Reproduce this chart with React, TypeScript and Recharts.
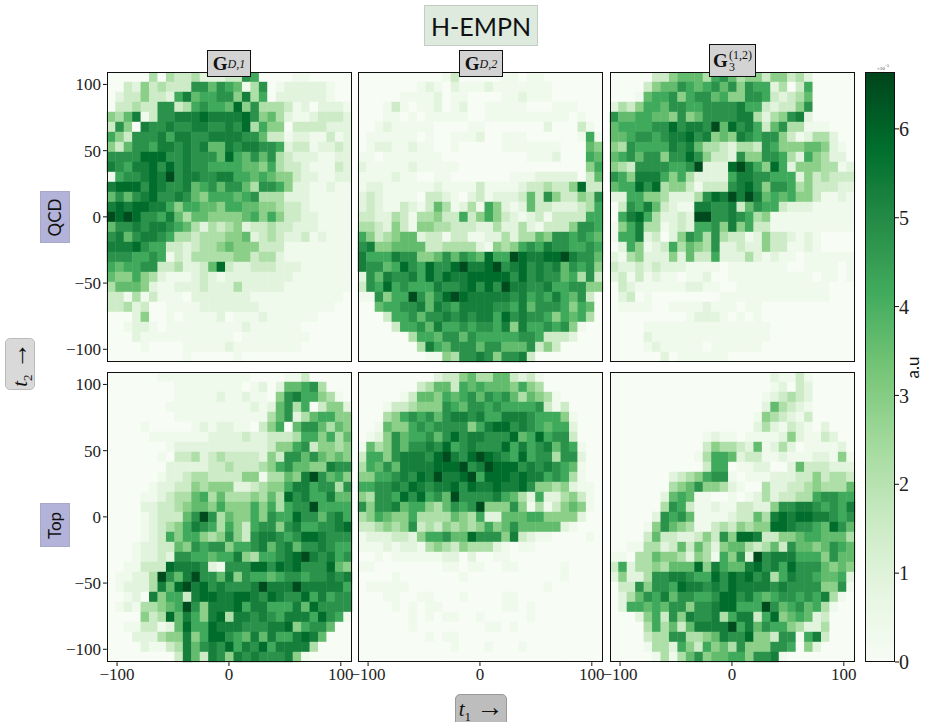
import React from "react";
import { BarChart, Bar, ScatterChart, Scatter, XAxis, YAxis } from "recharts";

// every row is one line of bins, top to bottom; each char is a level in LEVELS
const LEVELS = [0, 0.35, 0.9, 1.5, 2.2, 2.9, 3.6, 4.2, 4.8, 5.3, 5.8, 6.5];

const QCD_GD1 = [
  "00000 40433 42223 38700 00110 0000",
  "00325 34333 88687 61480 12222 2100",
  "02335 33279 67788 59470 22222 2100",
  "03343 38834 78776 a5844 43120 2221",
  "54691 38899 9a999 9a856 42112 3332",
  "38509 88988 99889 8a475 50333 3222",
  "75388 89799 88999 98863 31221 1312",
  "53688 79989 89669 89988 72331 2232",
  "8888a aa889 8886a 76868 43222 1122",
  "98799 a8a89 88777 76657 43321 1132",
  "17889 a9b89 98899 77676 55322 1122",
  "9aaa8 a9889 67868 86488 75221 1211",
  "68689 a8898 65777 67844 42221 1111",
  "9a9aa 99757 76657 76655 43321 1111",
  "baba8 87964 66555 56757 53322 1111",
  "68898 99876 42434 52334 33222 1111",
  "89689 98744 34445 56234 32231 2111",
  "999a8 77332 34456 55533 31111 1111",
  "88877 87132 44444 55344 21111 1111",
  "76778 83342 236a3 22333 22211 1111",
  "65575 42111 23212 22222 22111 1111",
  "46665 21122 23222 42222 21111 1111",
  "33141 31110 22222 22111 11111 1110",
  "33423 00111 12222 22211 11111 1100",
  "00025 00101 11120 11121 11111 0000",
  "00122 10111 11111 12111 11100 0000",
  "00021 11111 11111 01111 11110 0000",
  "00001 00001 11112 11111 11100 0000",
  "00000 00001 00000 10000 00000 0000",
];

const QCD_GD2 = [
  "00000 00000 13000 00110 11000 0000",
  "00000 00121 02111 21111 11100 0000",
  "00000 11112 01100 00112 11100 0000",
  "00013 10112 01200 11111 00011 1000",
  "00011 01011 11100 11111 11111 0100",
  "00121 11110 00011 00000 00200 0310",
  "01111 11010 01112 00111 00000 0171",
  "01221 12110 01000 00111 11110 0065",
  "11011 11111 00000 00000 11120 0076",
  "21111 12111 11000 00000 00000 0057",
  "11112 11001 10000 00011 12222 2036",
  "12211 11112 11113 11112 33433 5a33",
  "23211 11033 21023 12223 63853 3548",
  "23211 32136 41241 75212 63322 2347",
  "33224 31445 33735 75321 23133 3377",
  "44325 31554 43332 24224 21333 5887",
  "75345 66233 13311 22424 46588 7876",
  "89556 66633 44442 15457 87988 7787",
  "97779 88556 86876 a77ba 99aab 9886",
  "98867 a87a8 8ab99 ab89a 89896 8785",
  "28698 897a8 a99aa aaa8a 89886 7483",
  "387a7 87779 889a8 a8b99 88977 8855",
  "11857 7b868 aba99 99989 78797 6830",
  "00677 88969 87999 98879 68887 5760",
  "00037 78688 98989 97a89 88757 6740",
  "00003 77869 77878 87959 77878 5100",
  "00000 04776 88687 77778 87333 2000",
  "00000 00497 68886 88666 83530 0000",
  "00000 00011 54889 85889 30000 0000",
];

const QCD_G3 = [
  "00000 33566 64786 45535 53420 0000",
  "00003 56687 67868 58772 40370 0000",
  "00016 77857 88675 58873 23460 0000",
  "24357 76887 78888 97732 33580 0000",
  "86677 66585 68888 99424 58920 0000",
  "67777 88a89 98b6a 89736 84411 1000",
  "66788 7899a 89565 98788 53124 4200",
  "54877 77989 64432 44387 55566 5210",
  "67868 8588a 85332 85588 74275 4220",
  "54388 88778 b222a b975a 72555 4412",
  "87599 97574 22227 99887 77253 4333",
  "677a8 a4553 13338 9a858 87453 3322",
  "22775 54222 48a9b 9b967 67553 1121",
  "03879 63211 99889 36877 32221 1111",
  "079a7 42232 bb889 87451 11111 1111",
  "15794 41232 77859 57331 11111 1111",
  "17792 30258 74843 31253 32121 0000",
  "02751 23746 54822 32253 31121 0000",
  "21452 22526 33722 24212 11011 1111",
  "32232 32221 11101 11111 10011 1101",
  "23131 21101 12001 11111 11110 1101",
  "03211 11112 21100 11111 11111 1000",
  "02301 00000 00011 11111 11111 1000",
  "01111 00111 12111 01100 00000 0000",
  "00000 00001 22210 10100 00000 0000",
  "00001 11111 11111 11110 00000 0000",
  "00002 11111 11111 11110 00000 0000",
  "00001 21111 10111 11100 00000 0000",
  "00000 02011 11110 00000 00000 0000",
];

const TOP_GD1 = [
  "00000 01111 11111 11000 01130 0000",
  "00000 00011 11111 10120 26678 4000",
  "00000 00011 11121 12110 58977 5410",
  "00000 00111 11111 11212 68470 3552",
  "00000 00011 11111 11114 68246 7755",
  "00001 00000 12122 11035 70688 6465",
  "00000 11111 11222 23223 33477 5746",
  "00000 00122 22222 22223 55783 5545",
  "00000 01033 42343 33325 38868 6565",
  "00000 00222 22334 33345 78665 5988",
  "00000 01223 44333 35514 4659b 8675",
  "00000 12233 54555 22345 57997 8848",
  "00001 12344 67464 44546 4a897 7966",
  "00002 23345 66575 55757 4788b 7777",
  "00001 23336 8b846 55758 77a88 6897",
  "00001 23457 98747 53788 58977 889a",
  "00001 23757 75458 53899 878aa 9888",
  "00012 23365 87885 77896 89688 9877",
  "00012 23288 77677 95477 89ab9 8978",
  "00113 33a99 98218 88aa8 a9a88 8a65",
  "01122 4b869 b8869 58776 78878 8989",
  "01222 496ab 9a898 889b9 99b99 9997",
  "00120 95773 9aa99 aa98a 988a7 9788",
  "01214 4567b 85999 a7997 7796a 8888",
  "00005 34a69 759a4 99898 79997 a871",
  "00113 3126a 77a99 98889 9a578 8600",
  "00022 24559 57aa8 76969 779a9 6000",
  "00002 11349 6898a 798a7 99994 0000",
  "00000 00039 63985 98988 89510 0000",
];

const TOP_GD2 = [
  "00000 00002 33564 46632 31000 0000",
  "00000 00346 63767 66657 54000 0000",
  "00000 13665 76786 87864 65410 0000",
  "00013 34555 87688 78777 78313 0000",
  "00045 78786 89989 77999 87775 1000",
  "00165 57878 88857 9aa89 87677 2000",
  "01258 67786 8a899 888a6 7a788 3000",
  "16458 68898 a7898 88a79 78968 7100",
  "37758 9998a b98ab a987a 78848 8200",
  "47686 9999a aab89 baaa8 98987 6100",
  "55778 98a9b 99ab7 aaa9a 99787 4100",
  "77889 8a989 9a8a9 9a99a 85545 2110",
  "54887 a8a78 6b888 89764 27224 5310",
  "85889 67754 6878b 55585 14135 6510",
  "45765 57444 46547 22666 77555 5200",
  "33454 58343 54545 75686 66662 1000",
  "12223 32577 866a8 88593 21100 0010",
  "11121 22145 43544 42101 10000 0000",
  "00101 11111 22020 01100 00000 0000",
  "11000 00000 11011 00110 00001 0000",
  "00001 00000 00100 00000 00001 0000",
  "01111 10000 00000 00000 00100 0000",
  "00011 00110 00100 00110 00000 0000",
  "00001 01011 00000 00110 10000 0000",
  "00000 01010 11001 00000 10000 0000",
  "00000 01000 00000 11010 00000 0000",
  "00000 00010 11000 00000 00000 0000",
  "00000 00000 01000 10001 00000 0000",
  "00000 00000 00000 00000 00000 0000",
];

const TOP_G3 = [
  "00000 00000 00000 00002 11310 0000",
  "00000 00000 00000 00001 20320 0000",
  "00000 00000 00000 00012 34320 0000",
  "00000 00000 00000 00026 43210 0000",
  "00000 00000 00000 00154 32130 0000",
  "00000 00000 00000 00242 13210 2000",
  "00000 00000 01211 01111 25211 3200",
  "00000 00000 03544 32612 42011 1120",
  "00000 00000 14776 23311 21112 2151",
  "00000 00000 03770 11220 02633 3222",
  "00000 00234 57881 01112 22335 3443",
  "00000 00456 85542 10042 23345 4446",
  "00000 02676 11001 01242 33447 8877",
  "00000 04873 11211 33225 88998 7879",
  "00000 28786 11112 33649 a9aa9 9878",
  "00001 58654 11343 5455a a9887 6a86",
  "00003 63322 35385 aa933 55677 6664",
  "00114 42363 64256 64346 38665 6876",
  "11044 65542 54175 82b89 99777 5866",
  "37244 54666 a5976 69a89 7a888 6565",
  "25224 88998 77a8a 9a894 79887 6672",
  "03385 887a9 9898a 99998 98888 5581",
  "02468 79688 778aa 89767 88787 9410",
  "02776 76885 889aa 777b8 67867 4100",
  "00025 73859 88947 9937a 56762 3000",
  "00004 74636 9999b 79687 75422 4000",
  "00003 44884 45698 8a553 88179 3000",
  "00001 44275 37564 85558 87052 0000",
  "00000 14146 85667 75889 10000 0000",
];

const X_TICKS = [-100, 0, 100];
const Y_TICKS = [-100, -50, 0, 50, 100];
const CB_TICKS = [0, 1, 2, 3, 4, 5, 6];
const CB_MAX = 6.64;
const X_DOMAIN: [number, number] = [-109, 110];
const Y_DOMAIN: [number, number] = [-109.6, 109.4];

const GREENS = ["#f7fcf5", "#e5f5e0", "#c7e9c0", "#a1d99b", "#74c476", "#41ab5d", "#238b45", "#006d2c", "#00441b"];

const PLOT_W = 245;
const PLOT_H = 290;
const BINS = 29;
const SERIF = "'Liberation Serif', serif";
const SANS = "Lato, 'Open Sans', sans-serif";

function colorFor(v: number) {
  const t = Math.min(v / CB_MAX, 1) * (GREENS.length - 1);
  const i = Math.min(Math.floor(t), GREENS.length - 2);
  const f = t - i;
  const a = GREENS[i];
  const b = GREENS[i + 1];
  const ch = (s: string, k: number) => parseInt(s.slice(k, k + 2), 16);
  const mix = (k: number) => Math.round(ch(a, k) + (ch(b, k) - ch(a, k)) * f);
  return `rgb(${mix(1)},${mix(3)},${mix(5)})`;
}

function toCells(rows: string[]) {
  const dx = (X_DOMAIN[1] - X_DOMAIN[0]) / BINS;
  const dy = (Y_DOMAIN[1] - Y_DOMAIN[0]) / BINS;
  const cells: { x: number; y: number; v: number }[] = [];
  rows.forEach((row, r) => {
    row.replace(/ /g, "").split("").forEach((c, k) => {
      cells.push({
        x: X_DOMAIN[0] + (k + 0.5) * dx,
        y: Y_DOMAIN[1] - (r + 0.5) * dy,
        v: LEVELS[parseInt(c, 16)],
      });
    });
  });
  return cells;
}

function BinCell(props: any) {
  const w = PLOT_W / BINS + 0.4;
  const h = PLOT_H / BINS + 0.4;
  return (
    <rect
      x={props.cx - w / 2}
      y={props.cy - h / 2}
      width={w}
      height={h}
      fill={colorFor(props.payload.v)}
    />
  );
}

const fmt = (v: number) => (v < 0 ? `\u2212${-v}` : `${v}`);
const tickStyle = { fontFamily: SERIF, fontSize: 17, fill: "#222" };

function Panel({ rows, left, top, showX, showY }: { rows: string[]; left: number; top: number; showX?: boolean; showY?: boolean }) {
  return (
    <>
      <div style={{ position: "absolute", left: left - 50, top }}>
        <ScatterChart
          width={50 + PLOT_W + 15}
          height={PLOT_H + 32}
          margin={{ top: 0, right: 15, left: showY ? 0 : 50, bottom: showX ? 0 : 32 }}
        >
          <XAxis
            type="number"
            dataKey="x"
            domain={X_DOMAIN}
            ticks={X_TICKS}
            interval={0}
            hide={!showX}
            height={32}
            tickFormatter={fmt}
            tick={tickStyle}
            tickSize={4}
            axisLine={false}
            stroke="#111"
          />
          <YAxis
            type="number"
            dataKey="y"
            domain={Y_DOMAIN}
            ticks={Y_TICKS}
            interval={0}
            hide={!showY}
            width={50}
            tickFormatter={fmt}
            tick={tickStyle}
            tickSize={4}
            axisLine={false}
            stroke="#111"
          />
          <Scatter data={toCells(rows)} shape={BinCell} isAnimationActive={false} />
        </ScatterChart>
      </div>
      <div style={{ position: "absolute", left, top, width: PLOT_W, height: PLOT_H, boxSizing: "border-box", border: "1px solid #111", pointerEvents: "none" }} />
    </>
  );
}

function ColorBar() {
  return (
    <>
      <div style={{ position: "absolute", left: 865, top: 62 }}>
        <BarChart width={60} height={610} data={[{ name: "a.u", v: CB_MAX }]} margin={{ top: 10, right: 0, left: 0, bottom: 10 }} barCategoryGap={0}>
          <defs>
            <linearGradient id="greensRamp" x1="0" y1="1" x2="0" y2="0">
              {GREENS.map((c, i) => (
                <stop key={c} offset={i / (GREENS.length - 1)} stopColor={c} />
              ))}
            </linearGradient>
          </defs>
          <XAxis dataKey="name" hide />
          <YAxis
            orientation="right"
            type="number"
            domain={[0, CB_MAX]}
            ticks={CB_TICKS}
            interval={0}
            width={30}
            tick={{ fontFamily: SERIF, fontSize: 20, fill: "#222" }}
            tickSize={4}
            tickMargin={0}
            axisLine={false}
            stroke="#111"
          />
          <Bar dataKey="v" fill="url(#greensRamp)" isAnimationActive={false} />
        </BarChart>
      </div>
      <div style={{ position: "absolute", left: 865, top: 72, width: 30, height: 590, boxSizing: "border-box", border: "1px solid #111" }} />
      <div style={{ position: "absolute", left: 877, top: 65, fontFamily: SERIF, fontSize: 5, color: "#333", lineHeight: "7px" }}>
        ×10<sup style={{ fontSize: 4, lineHeight: 0 }}>−5</sup>
      </div>
    </>
  );
}

function ColTitle({ left, top, width, height, children }: any) {
  return (
    <div style={{ position: "absolute", left, top, width, height, boxSizing: "border-box", background: "#d3d3d3", border: "1px solid #111", display: "flex", alignItems: "center", justifyContent: "center", fontFamily: SERIF, color: "#111", zIndex: 3 }}>
      {children}
    </div>
  );
}

const Sub = ({ children }: any) => <sub style={{ fontSize: 12, fontStyle: "italic", lineHeight: 0, verticalAlign: -4 }}>{children}</sub>;

function SideBox({ left, top, width, height, bg, border, radius, font, size, children }: any) {
  return (
    <div style={{ position: "absolute", left, top, width, height, boxSizing: "border-box", background: bg, border: `1px solid ${border}`, borderRadius: radius, display: "flex", alignItems: "center", justifyContent: "center", fontFamily: font, fontSize: size, color: "#111" }}>
      <span style={{ transform: "rotate(-90deg)", whiteSpace: "nowrap" }}>{children}</span>
    </div>
  );
}

export default function App() {
  return (
    <div style={{ position: "fixed", left: 0, top: 0, width: 925, height: 722, overflow: "hidden", background: "#fff" }}>
      <Panel rows={QCD_GD1} left={107} top={72} showY />
      <Panel rows={QCD_GD2} left={358} top={72} />
      <Panel rows={QCD_G3} left={610} top={72} />
      <Panel rows={TOP_GD1} left={107} top={372} showX showY />
      <Panel rows={TOP_GD2} left={358} top={372} showX />
      <Panel rows={TOP_G3} left={610} top={372} showX />
      <ColorBar />

      <div style={{ position: "absolute", left: 424, top: 5, width: 114, height: 41, boxSizing: "border-box", background: "#dfeadf", border: "1px solid #c4cdc4", display: "flex", alignItems: "center", justifyContent: "center", fontFamily: SANS, fontSize: 25, color: "#111" }}>
        H-EMPN
      </div>

      <ColTitle left={207} top={50} width={44} height={27}>
        <b style={{ fontSize: 19 }}>G</b><Sub>D,1</Sub>
      </ColTitle>
      <ColTitle left={459} top={50} width={44} height={27}>
        <b style={{ fontSize: 19 }}>G</b><Sub>D,2</Sub>
      </ColTitle>
      <ColTitle left={709} top={44} width={47} height={33}>
        <b style={{ fontSize: 19 }}>G</b>
        <span style={{ display: "inline-flex", flexDirection: "column", fontSize: 12, lineHeight: "12px", marginLeft: 1 }}>
          <span>(1,2)</span>
          <span>3</span>
        </span>
      </ColTitle>

      <SideBox left={40} top={191} width={30} height={52} bg="#b3b3d9" border="#a8a8cc" font={SANS} size={17}>QCD</SideBox>
      <SideBox left={40} top={503} width={30} height={44} bg="#b3b3d9" border="#a8a8cc" font={SANS} size={17}>Top</SideBox>
      <SideBox left={5} top={338} width={30} height={52} bg="#d9d9d9" border="#bbb" radius={5} font={SERIF} size={21}>
        <i>t</i><sub style={{ fontSize: 13, lineHeight: 0 }}>2</sub> <span style={{ fontSize: 27, lineHeight: 0 }}>→</span>
      </SideBox>

      <div style={{ position: "absolute", left: 455, top: 694, width: 52, height: 40, boxSizing: "border-box", background: "#bdbdbd", border: "1px solid #999", borderRadius: 5, paddingTop: 2, textAlign: "center", fontFamily: SERIF, fontSize: 21, color: "#111", whiteSpace: "nowrap" }}>
        <i>t</i><sub style={{ fontSize: 13, lineHeight: 0 }}>1</sub> <span style={{ fontSize: 27, lineHeight: 0 }}>→</span>
      </div>

      <div style={{ position: "absolute", left: 903, top: 355, width: 20, height: 24, display: "flex", alignItems: "center", justifyContent: "center", fontFamily: SANS, fontSize: 17, color: "#111" }}>
        <span style={{ transform: "rotate(-90deg)" }}>a.u</span>
      </div>
    </div>
  );
}
